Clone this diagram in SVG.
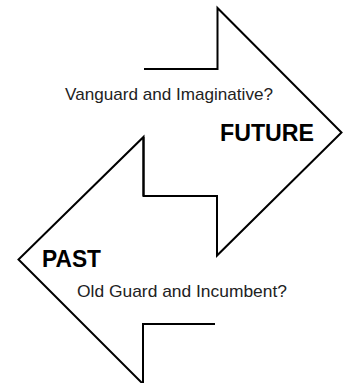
<svg xmlns="http://www.w3.org/2000/svg" width="348" height="383" viewBox="0 0 348 383">
  <style>
    .arrow { fill: none; stroke: #000; stroke-width: 2; stroke-linejoin: miter; stroke-miterlimit: 10; }
    .q { font-family: "Liberation Sans", Arial, sans-serif; font-size: 17px; fill: #222; }
    .big { font-family: "Liberation Sans", Arial, sans-serif; font-size: 23px; font-weight: bold; fill: #000; }
  </style>
  <rect width="348" height="383" fill="#fff"/>
  <g id="future">
    <path class="arrow" d="M144,69 H217.5 V8 L341.5,132.5 L217,255.5 V196 H143.5 V137"/>
    <text class="q" x="65" y="100" textLength="208" lengthAdjust="spacingAndGlyphs">Vanguard and Imaginative?</text>
    <text class="big" x="220" y="141" textLength="94" lengthAdjust="spacingAndGlyphs">FUTURE</text>
  </g>
  <g id="past">
    <path class="arrow" d="M143.5,196 V137 L18.5,259.5 L143,384 V324 H215"/>
    <text class="big" x="42" y="267" textLength="59" lengthAdjust="spacingAndGlyphs">PAST</text>
    <text class="q" x="77" y="297" textLength="210" lengthAdjust="spacingAndGlyphs">Old Guard and Incumbent?</text>
  </g>
</svg>
